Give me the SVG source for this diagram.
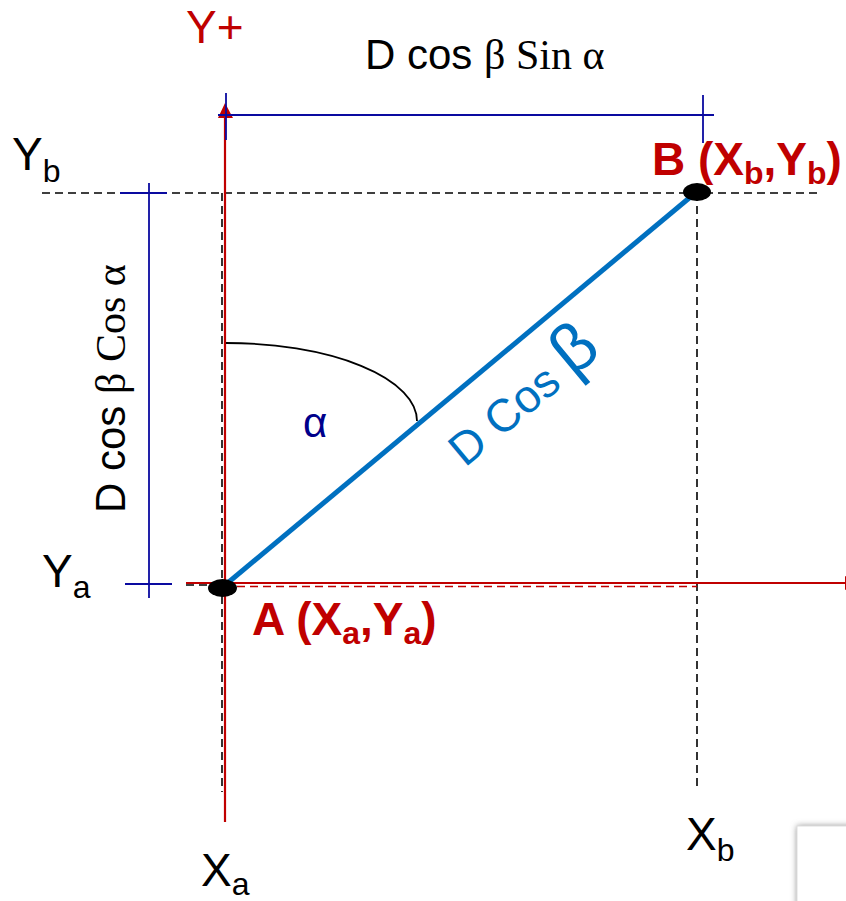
<svg xmlns="http://www.w3.org/2000/svg" width="846" height="901" viewBox="0 0 846 901">
  <style>
    .sans { font-family: "Liberation Sans", Arial, sans-serif; }
    .serif { font-family: "Liberation Serif", "Times New Roman", serif; }
    .lbl { font-size: 46px; fill: #000; }
    .pt { font-size: 46px; font-weight: bold; fill: #C00000; }
    .dash { stroke: #000; stroke-width: 1.6; stroke-dasharray: 8 5; fill: none; }
    .dim { stroke: #0A0AA0; stroke-width: 1.8; fill: none; }
    .axis { stroke: #C00000; stroke-width: 2.2; fill: none; }
  </style>
  <defs>
    <filter id="shadow" x="-50%" y="-50%" width="200%" height="200%">
      <feGaussianBlur stdDeviation="3"/>
    </filter>
  </defs>
  <rect width="846" height="901" fill="#fff"/>

  <g id="connectors">
    <!-- dashed guide lines -->
    <line class="dash" x1="42" y1="193" x2="817" y2="193"/>
    <line class="dash" x1="222" y1="193" x2="222" y2="792"/>
    <line class="dash" x1="697" y1="193" x2="697" y2="788"/>
    <line class="dash" x1="186" y1="585" x2="222" y2="585"/>
    <line x1="237" y1="586.5" x2="697" y2="586.5" stroke="#C00000" stroke-width="1.6" stroke-dasharray="8 5"/>
    <!-- axes -->
    <line class="axis" x1="225" y1="116" x2="225" y2="822"/>
    <polygon points="225,103 218,118 233,118" fill="#C00000"/>
    <line class="axis" x1="186" y1="583" x2="846" y2="583"/>
    <polygon points="845,576 860,583 845,590" fill="#C00000"/>
    <!-- dimension lines -->
    <line class="dim" x1="218" y1="115" x2="714" y2="115"/>
    <line class="dim" x1="226" y1="93" x2="226" y2="140"/>
    <line class="dim" x1="703" y1="95" x2="703" y2="143"/>
    <line class="dim" x1="149" y1="183" x2="149" y2="598"/>
    <line class="dim" x1="120" y1="193" x2="167" y2="193"/>
    <line class="dim" x1="125" y1="584" x2="172" y2="584"/>
    <!-- angle arc -->
    <path d="M226,343 A191 78 0 0 1 417,421" fill="none" stroke="#000" stroke-width="1.8"/>
    <!-- D cos beta line -->
    <line x1="224" y1="586" x2="694" y2="194" stroke="#0070C0" stroke-width="5"/>
  </g>

  <g id="point-A">
    <ellipse cx="222.5" cy="588" rx="14.5" ry="9" fill="#000"/>
    <text class="sans pt" x="252" y="635">A (X<tspan font-size="32" dy="9">a</tspan><tspan dy="-9">,Y</tspan><tspan font-size="32" dy="9">a</tspan><tspan dy="-9">)</tspan></text>
  </g>

  <g id="point-B">
    <ellipse cx="697" cy="192" rx="14" ry="9" fill="#000"/>
    <text class="sans pt" x="652" y="175">B (X<tspan font-size="32" dy="9">b</tspan><tspan dy="-9">,Y</tspan><tspan font-size="32" dy="9">b</tspan><tspan dy="-9">)</tspan></text>
  </g>

  <g id="labels">
    <text class="sans" x="186" y="43" font-size="46" fill="#C00000">Y+</text>
    <text x="365" y="69" font-size="42" fill="#000"><tspan class="sans">D cos </tspan><tspan class="serif">β Sin α</tspan></text>
    <text transform="translate(125,513) rotate(-90)" font-size="42" fill="#000"><tspan class="sans">D cos </tspan><tspan class="serif">β Cos α</tspan></text>
    <text class="sans lbl" x="12" y="170">Y<tspan font-size="32" dy="12">b</tspan></text>
    <text class="sans lbl" x="42" y="587">Y<tspan font-size="32" dy="11">a</tspan></text>
    <text class="sans lbl" x="201" y="886">X<tspan font-size="32" dy="9">a</tspan></text>
    <text class="sans lbl" x="686" y="850">X<tspan font-size="32" dy="11">b</tspan></text>
    <text class="sans" x="303" y="437" font-size="42" fill="#00008B">α</text>
    <text class="sans" transform="translate(465,468) rotate(-39.8)" font-size="46" fill="#0070C0">D Cos <tspan font-size="68">β</tspan></text>
  </g>

  <g id="corner-box">
    <rect x="797" y="826" width="80" height="100" fill="#888" filter="url(#shadow)"/>
    <rect x="797" y="826" width="80" height="100" fill="#fff" stroke="#ddd" stroke-width="1"/>
  </g>
</svg>
